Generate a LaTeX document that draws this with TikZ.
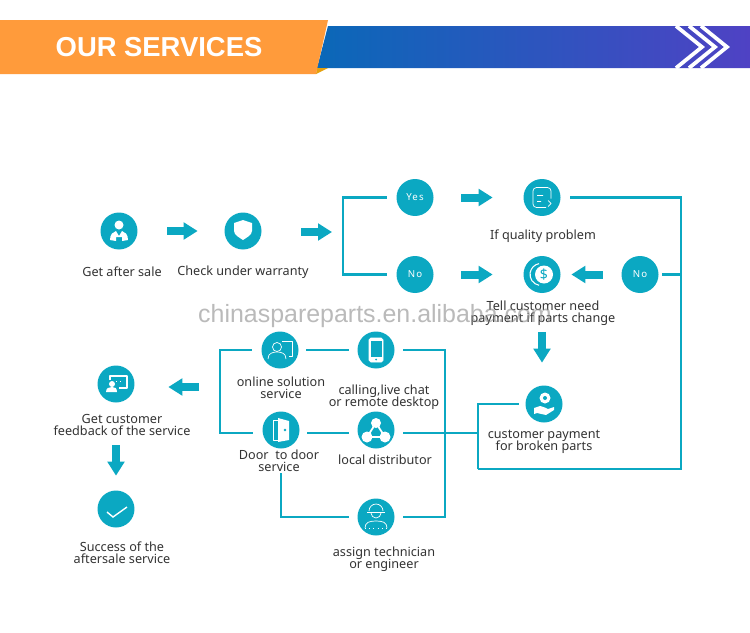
\documentclass[tikz,border=0pt]{standalone}
\usepackage{fontspec}
\setmainfont{Noto Sans}
\newfontfamily\headfont{Liberation Sans}
\usepackage{xcolor}
\usetikzlibrary{arrows.meta, calc}
\definecolor{svcTeal}{HTML}{0BA8C2}
\definecolor{svcText}{HTML}{333333}
\definecolor{bannerOrange}{HTML}{FF9B3B}
\definecolor{bannerFold}{HTML}{E5A00D}
\definecolor{bannerLeft}{HTML}{0A68B8}
\definecolor{bannerRight}{HTML}{4F42C4}
\newcommand{\lblfont}{\fontsize{7.2}{7}\selectfont\setlength{\lineskiplimit}{-10pt}}

\begin{document}
\begin{tikzpicture}[
    x=0.02cm, y=-0.02cm,
    svc/.style={circle, fill=svcTeal, minimum size=0.74cm, inner sep=0pt, text=white,
                font=\fontsize{5.5}{6}\selectfont\addfontfeature{LetterSpace=12}},
    lbl/.style={text=svcText, align=center, inner sep=0pt, font=\lblfont},
    link/.style={draw=svcTeal, line width=0.05cm},
    thinlink/.style={draw=svcTeal, line width=0.036cm},
    bigarrow/.style={draw=svcTeal, line width=0.16cm, -{Triangle[length=2.8mm,width=3.3mm]}},
    icon/.style={draw=white, line width=0.4pt, line join=round},
    iconfill/.style={fill=white},
]
\useasboundingbox (0,0) rectangle (750,632);
\fill[white] (0,0) rectangle (750,632);
\shade[left color=bannerLeft, right color=bannerRight] (317,68) -- (328,26) -- (750,26) -- (750,68) -- cycle;
\fill[bannerFold] (316,74) -- (328,68) -- (317,68) -- cycle;
\fill[bannerOrange] (0,20) -- (328,20) -- (316,74) -- (0,74) -- cycle;
\begin{scope}
    \clip (660,26) rectangle (750,68);
    \foreach \tipx in {702,715,727}
        \draw[white, line width=0.075cm] (\tipx-26,26) -- (\tipx,47) -- (\tipx-26,68);
\end{scope}
\node[text=white, inner sep=0pt, font=\headfont\bfseries\fontsize{15.6}{16}\selectfont] (title) at (159,47) {OUR SERVICES};

\node[svc] (getsale) at (119,231) {};
\node[svc] (check) at (243,231) {};
\node[svc] (yes) at (415,197.5) {Yes};
\node[svc] (quality) at (542,197.5) {};
\node[svc] (nofirst) at (415,274.5) {No};
\node[svc] (pay) at (542,274.5) {};
\node[svc] (nosecond) at (640,274.5) {No};
\node[svc] (online) at (280,350) {};
\node[svc] (calling) at (376,350) {};
\node[svc] (door) at (281,430) {};
\node[svc] (local) at (376,430) {};
\node[svc] (tech) at (376,517) {};
\node[svc] (customer) at (544,404) {};
\node[svc] (feedback) at (116,384) {};
\node[svc] (success) at (116,509) {};

\coordinate (split) at (343,232);
\coordinate (corner) at (681,469);
\coordinate (entry) at (478,469);
\coordinate (merge) at (220,387);
\coordinate (rightbar) at (445,430);

\node[lbl] (getsalelbl) at (122,272) {Get after sale};
\node[lbl] (checklbl) at (243,272) {Check under warranty};
\node[lbl] (qualitylbl) at (543,236) {If quality problem};
\node[lbl] (paylbl) at (543,313) {Tell customer need\\payment if parts change};
\node[lbl] (onlinelbl) at (281,388) {online solution\\service};
\node[lbl] (callinglbl) at (384,397) {calling,live chat\\or remote desktop};
\node[lbl] (locallbl) at (385,460) {local distributor};
\node[lbl] (doorlbl) at (279,461) {Door\ \ to door\\service};
\node[lbl] (customerlbl) at (544,442) {customer payment\\for broken parts};
\node[lbl] (feedbacklbl) at (122,425) {Get customer\\feedback of the service};
\node[lbl] (successlbl) at (122,553) {Success of the\\aftersale service};
\node[lbl] (techlbl) at (384,559) {assign technician\\or engineer};

\draw[bigarrow, shorten <=0.59cm, shorten >=0.53cm] (getsale) -- (check);
\draw[bigarrow, shorten <=0.79cm, shorten >=0.22cm] (check.east |- split) -- (split);
\draw[bigarrow, shorten <=0.55cm, shorten >=0.61cm] (yes) -- (quality);
\draw[bigarrow, shorten <=0.55cm, shorten >=0.61cm] (nofirst) -- (pay);
\draw[bigarrow, shorten <=0.37cm, shorten >=0.21cm] (nosecond) -- (pay);
\draw[bigarrow, shorten <=0.77cm, shorten >=0.45cm] (pay.south) -- (pay.south |- customer.north);
\draw[bigarrow, shorten <=0.42cm, shorten >=0.67cm] (merge) -- (merge -| feedback.east);
\draw[bigarrow, shorten <=0.85cm, shorten >=0.29cm] (feedback) -- (success);

\draw[link, shorten <=0.19cm, shorten >=0.19cm] (yes.west) -| (split) |- (nofirst.west);
\draw[link, shorten <=0.19cm] (quality.east) -| (corner) -- (entry);
\draw[link, shorten <=0.07cm] (nosecond.east) -- (nosecond.east -| corner);
\draw[thinlink, shorten >=0.13cm] (entry) |- (customer.west);
\draw[link, shorten <=0.15cm, shorten >=0.17cm] (online) -- (calling);
\draw[link, shorten <=0.15cm, shorten >=0.17cm] ([yshift=-0.06cm]door.east) -- ([yshift=-0.06cm]local.west);
\draw[link, shorten <=0.19cm, shorten >=0.19cm] (online.west) -| (merge) |- ([yshift=-0.06cm]door.west);
\draw[link, shorten <=0.17cm, shorten >=0.17cm] (calling.east) -| (rightbar) |- (tech.east);
\draw[link, shorten <=0.17cm] ([yshift=-0.06cm]local.east) -- ([yshift=-0.06cm]local.east -| entry);
\draw[thinlink, shorten <=0.49cm, shorten >=0.17cm] (door.south) |- (tech.west);

\begin{scope}[shift={(119,231)}]
    \fill[iconfill] (0,-6) circle (4.5);
    \fill[iconfill] (-9,9) .. controls (-9,3) and (-6,1) .. (-3,0) -- (0,5) -- (3,0) .. controls (6,1) and (9,3) .. (9,9) -- (3,10) -- (3,6) -- (-3,6) -- (-3,10) -- cycle;
\end{scope}
\begin{scope}[shift={(243,231)}]
    \fill[iconfill] (-9,-8) -- (0,-11) -- (9,-8) -- (9,0) .. controls (9,4) and (3,7) .. (0,9) .. controls (-3,7) and (-9,4) .. (-9,0) -- cycle;
\end{scope}
\begin{scope}[shift={(542,197.5)}]
    \draw[icon, rounded corners=2pt] (9,1) -- (9,-10) -- (-9,-10) -- (-9,10) -- (4,10);
    \draw[icon] (-5,-2) -- (1,-2) (-5,4) -- (-1,4) (6,3) -- (9,6) -- (6,9);
\end{scope}
\begin{scope}[shift={(542,274.5)}]
    \draw[icon, line width=0.6pt] (-2.9,10.8) arc (100:260:11);
    \fill[iconfill] (2,0) circle (9);
    \node[text=svcTeal, inner sep=0pt, font=\bfseries\fontsize{8}{8}\selectfont] (dollar) at (2,0) {\$};
\end{scope}
\begin{scope}[shift={(280,350)}]
    \draw[icon] (-3,-3) circle (4.5);
    \draw[icon] (-12,9) .. controls (-12,3) and (-7,2) .. (-3,2) .. controls (1,2) and (6,3) .. (6,9);
    \draw[icon] (2,-9) -- (12,-9) -- (12,6) -- (9,6);
\end{scope}
\begin{scope}[shift={(376,350)}]
    \draw[icon, fill=white, rounded corners=1pt] (-7,-12) rectangle (7,12);
    \fill[svcTeal] (-5.5,-9) rectangle (5.5,7);
    \fill[svcTeal] (0,9.5) circle (1);
\end{scope}
\begin{scope}[shift={(281,430)}]
    \draw[icon] (-3,-10) -- (-8,-10) -- (-8,10) -- (-3,10);
    \fill[iconfill] (-3,-12) -- (8,-9) -- (8,10) -- (-3,12) -- cycle;
    \fill[svcTeal] (4,0) circle (1.3);
\end{scope}
\begin{scope}[shift={(376,430)}]
    \fill[iconfill] (0,-7) circle (5);
    \fill[iconfill] (-9,7) circle (5.5);
    \fill[iconfill] (9,7) circle (5.5);
    \draw[white, line width=1pt] (0,-7) -- (-9,7) -- (9,7) -- cycle;
\end{scope}
\begin{scope}[shift={(376,517)}]
    \draw[icon] (-7,-6) arc (180:360:7);
    \draw[icon] (-9,-5) -- (9,-5);
    \draw[icon] (-5,-4) arc (180:0:5);
    \draw[icon] (-11,11) .. controls (-11,5) and (-6,4) .. (0,4) .. controls (6,4) and (11,5) .. (11,11);
    \draw[icon, dotted] (-11,11) -- (11,11);
\end{scope}
\begin{scope}[shift={(544,404)}]
    \fill[iconfill] (1,-6) circle (5.5);
    \fill[svcTeal] (1,-6) circle (2);
    \fill[iconfill] (-10,4) -- (-4,2) .. controls (0,3) and (2,4) .. (4,5) -- (10,3) -- (10,6) -- (2,11) -- (-7,9) -- (-10,10) -- cycle;
\end{scope}
\begin{scope}[shift={(116,384)}]
    \draw[icon, line width=0.7pt] (-6,-4) -- (-6,-8) -- (11,-8) -- (11,4) -- (3,4);
    \draw[icon, dotted] (0,-3) -- (8,-3);
    \fill[iconfill] (-4,0) circle (3);
    \fill[iconfill] (-10,8) .. controls (-10,4) and (-7,3) .. (-4,3) .. controls (-1,3) and (1,4) .. (1,8) -- cycle;
\end{scope}
\begin{scope}[shift={(116,509)}]
    \draw[white, line width=0.8pt] (-9,3) -- (-3,8) -- (11,-2);
\end{scope}

\node[text=black!45, opacity=0.6, inner sep=0pt, font=\headfont\fontsize{14.2}{15}\selectfont] (watermark) at (375,316) {chinaspareparts.en.alibaba.com};
\end{tikzpicture}
\end{document}
